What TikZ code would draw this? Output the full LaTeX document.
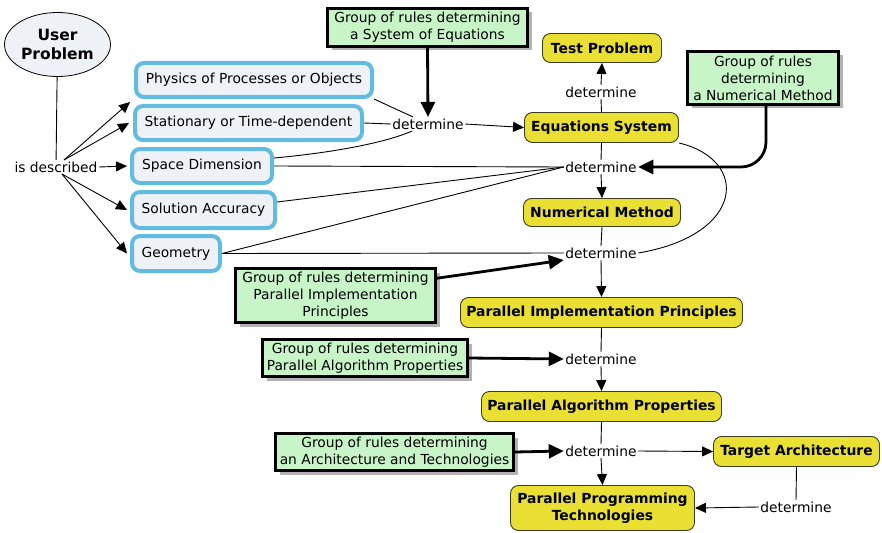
\documentclass[tikz,border=0pt]{standalone}
\usepackage{fontspec}
\setmainfont{DejaVu Sans}
\usetikzlibrary{arrows.meta,shadows,shapes.geometric}

\definecolor{conceptblue}{RGB}{98,187,224}
\definecolor{conceptfill}{RGB}{238,242,246}
\definecolor{rulegreen}{RGB}{200,245,200}
\definecolor{goalyellow}{RGB}{234,224,52}
\definecolor{goaledge}{RGB}{60,60,30}

\tikzset{
  base/.style={font=\fontsize{13.8}{17}\selectfont, align=center, inner sep=0pt},
  concept/.style={base, draw=conceptblue, line width=4pt, fill=conceptfill, rounded corners=8pt},
  rulebox/.style={base, draw=black, line width=2.5pt, fill=rulegreen,
    drop shadow={shadow xshift=4pt, shadow yshift=-4pt, fill=black!30, opacity=1}},
  goal/.style={base, font=\fontsize{13.9}{17}\selectfont\bfseries, draw=goaledge,
    line width=0.9pt, fill=goalyellow, rounded corners=8pt},
  link/.style={base, inner sep=1.5pt},
  conn/.style={line width=0.9pt},
  arr/.style={conn, -{Triangle[length=11pt,width=10pt]}},
  bigarr/.style={line width=2.8pt, -{Triangle[length=15pt,width=14pt]}},
}

\begin{document}
\begin{tikzpicture}[x=1pt,y=-1pt]
\useasboundingbox (0,0) rectangle (882,532);

% root concept
\node[ellipse, base, draw, line width=0.8pt, fill=conceptfill,
  font=\fontsize{15.5}{19}\selectfont\bfseries,
  minimum width=106pt, minimum height=64pt] (user) at (57.5,44.5) {User\\Problem};

% problem description concepts
\node[concept, minimum width=236pt, minimum height=34pt] (phys) at (254,80) {Physics of Processes or Objects};
\node[concept, minimum width=227pt, minimum height=34pt] (stat) at (248.5,123) {Stationary or Time-dependent};
\node[concept, minimum width=140pt, minimum height=34pt] (space) at (202,166) {Space Dimension};
\node[concept, minimum width=143pt, minimum height=36pt] (acc) at (203.5,210) {Solution Accuracy};
\node[concept, minimum width=88pt, minimum height=35pt] (geom) at (176,253.5) {Geometry};

% rule groups
\node[rulebox, minimum width=200pt, minimum height=38pt] (g1) at (427.5,27.5) {Group of rules determining\\a System of Equations};
\node[rulebox, minimum width=151pt, minimum height=53pt] (g2) at (763,78) {Group of rules\\determining\\a Numerical Method};
\node[rulebox, minimum width=200pt, minimum height=54pt] (g3) at (335.5,295.5) {Group of rules determining\\Parallel Implementation\\Principles};
\node[rulebox, minimum width=205pt, minimum height=37pt] (g4) at (365,358) {Group of rules determining\\Parallel Algorithm Properties};
\node[rulebox, minimum width=238pt, minimum height=37pt] (g5) at (394.5,452) {Group of rules determining\\an Architecture and Technologies};

% derived concepts
\node[goal, minimum width=119pt, minimum height=29pt] (tp) at (602,48) {Test Problem};
\node[goal, minimum width=154pt, minimum height=30pt] (eq) at (601.5,127.5) {Equations System};
\node[goal, minimum width=157pt, minimum height=28pt] (nm) at (602,212.5) {Numerical Method};
\node[goal, minimum width=282pt, minimum height=30pt] (pip) at (601.5,312.5) {Parallel Implementation Principles};
\node[goal, minimum width=240pt, minimum height=30pt] (pap) at (601.5,406.5) {Parallel Algorithm Properties};
\node[goal, minimum width=166pt, minimum height=30pt] (ta) at (796.5,451.5) {Target Architecture};
\node[goal, minimum width=184pt, minimum height=45pt] (ppt) at (602.5,508) {Parallel Programming\\Technologies};

% linking phrases
\node[link] (isdesc) at (56,167) {is described};
\node[link] (d1) at (428,124) {determine};
\node[link] (dtp) at (601,92) {determine};
\node[link] (d2) at (601,167) {determine};
\node[link] (d3) at (601,253) {determine};
\node[link] (d4) at (601,359) {determine};
\node[link] (d5) at (601,451) {determine};
\node[link] (d6) at (796,507) {determine};

% user problem description
\coordinate (isdU) at ([xshift=8pt]isdesc.north);
\coordinate (isdL) at ([xshift=6pt]isdesc.south);
\draw[conn] (user) -- (isdesc);
\draw[arr] (isdU) -- ([xshift=-4pt,yshift=-3pt]phys.south west);
\draw[arr] (isdU) -- ([xshift=-4pt]stat.west);
\draw[arr] (isdesc.east) -- ([xshift=-3pt]space.west);
\draw[arr] (isdL) -- ([xshift=-3pt]acc.west);
\draw[arr] (isdL) -- ([xshift=-3pt]geom.west);

% equations system
\draw[conn] (phys.south east) -- ([xshift=-15pt]d1.north);
\draw[conn] (stat.east) -- (d1.west);
\draw[conn] ([yshift=8pt]space.east) .. controls (330,153) and (385,143) .. ([xshift=-16pt]d1.south);
\draw[bigarr] (g1.south) -- (d1.north);
\draw[arr] (d1.east) -- (eq.west);
\draw[conn] (eq.north) -- (dtp.north |- dtp.south);
\draw[arr] (dtp.north) -- (tp.south);

% numerical method
\draw[conn] (eq.south) -- (d2.north);
\draw[arr] (d2.south) -- (nm.north);
\draw[conn] (space.east) -- (d2.west);
\draw[conn] ([yshift=8pt]acc.east) -- (d2.west);
\draw[conn] (geom.east) -- (d2.west);
\draw[bigarr, rounded corners=25pt] ([xshift=3pt]g2.south) |- (d2.east);

% parallel implementation principles
\draw[conn] (nm.south) -- (d3.north);
\draw[conn] (geom.east) -- (d3.west);
\draw[conn] (eq.south east) .. controls (750,160) and (745,235) .. (d3.east);
\draw[bigarr] ([yshift=-11pt]g3.north east) -- (d3.south west);
\draw[arr] (d3.south) -- (pip.north);

% parallel algorithm properties
\draw[conn] (pip.south) -- (d4.north);
\draw[bigarr] (g4.east) -- (d4.west);
\draw[arr] (d4.south) -- (pap.north);

% architecture and technologies
\draw[conn] (pap.south) -- (d5.north);
\draw[bigarr] (g5.east) -- (d5.west);
\draw[arr] (d5.south) -- (ppt.north);
\draw[arr] (d5.east) -- (ta.west);
\draw[conn] (ta.south) -- (d6.north);
\draw[arr] (d6.west) -- (ppt.east);
\end{tikzpicture}
\end{document}
